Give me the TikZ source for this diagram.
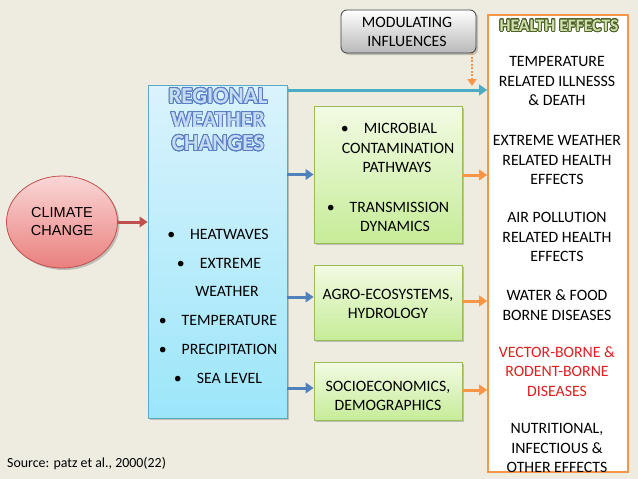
\documentclass[tikz,border=0pt]{standalone}
\usepackage{fontspec}
\setmainfont{Carlito}
\newfontfamily\arialfont{Liberation Sans}
\usepackage{contour}
\contournumber{32}
\usetikzlibrary{arrows.meta,shadows,shapes.geometric}
\definecolor{bgc}{HTML}{EEECE1}
\definecolor{redarr}{HTML}{C0504D}
\definecolor{bluearr}{HTML}{4F81BD}
\definecolor{tealarr}{HTML}{4BACC6}
\definecolor{orangearr}{HTML}{F79646}
\definecolor{cyantop}{HTML}{DAF3FC}
\definecolor{cyanbot}{HTML}{9CE6FA}
\definecolor{cyanedge}{HTML}{5AA9C9}
\definecolor{greentop}{HTML}{F2FBE3}
\definecolor{greenbot}{HTML}{C6EC98}
\definecolor{greenedge}{HTML}{9BBB59}
\definecolor{pinktop}{HTML}{FAD6D6}
\definecolor{pinkbot}{HTML}{E9807E}
\definecolor{pinkedge}{HTML}{C0504D}
\definecolor{regfill}{HTML}{C5DCF4}
\definecolor{regline}{HTML}{5B7FC7}
\definecolor{hefill}{HTML}{CFDFAE}
\definecolor{heline}{HTML}{4F6228}
\definecolor{vecred}{HTML}{E0201E}
\begin{document}
\begin{tikzpicture}[x=1pt,y=-1pt,
  shad/.style={drop shadow={shadow xshift=2pt,shadow yshift=-2pt,opacity=0.35,fill=black!60}},
  arr/.style={line width=3pt,-{Triangle[length=8pt,width=10.5pt]}},
  cyanbox/.style={shad,draw=cyanedge,line width=0.8pt,top color=cyantop,bottom color=cyanbot,inner sep=0pt},
  greenbox/.style={shad,draw=greenedge,line width=0.8pt,top color=greentop,bottom color=greenbot,inner sep=0pt},
  txt/.style={font=\fontsize{15.8}{19}\selectfont,inner sep=0pt,align=center,text=black},
  htxt/.style={font=\fontsize{15.8}{19.5}\selectfont,inner sep=0pt,align=center,text=black}]
\fill[bgc] (0,0) rectangle (638,479);
\useasboundingbox (0,0) rectangle (638,479);
% boxes
\node[ellipse,shad,draw=pinkedge,line width=0.8pt,top color=pinktop,bottom color=pinkbot,
  minimum width=111pt,minimum height=92pt,inner sep=0pt] (cc) at (62,222) {};
\node[font=\arialfont\fontsize{14.5}{18}\selectfont,align=center,inner sep=0pt] (cct) at (62,222) {CLIMATE\\CHANGE};
\node[cyanbox,minimum width=139pt,minimum height=333pt] (reg) at (217.5,251.5) {};
\node[greenbox,minimum width=148pt,minimum height=137pt] (g1) at (388,174.5) {};
\node[greenbox,minimum width=148pt,minimum height=75pt] (g2) at (388,302.5) {};
\node[greenbox,minimum width=148pt,minimum height=58pt] (g3) at (388,391) {};
\node[shad,draw=black!75,line width=0.8pt,rounded corners=6pt,top color=white,bottom color=black!28,
  minimum width=135pt,minimum height=43pt,inner sep=0pt] (mod) at (408.5,31.5) {};
\node[draw=orangearr,line width=1.6pt,fill=white,minimum width=140pt,minimum height=457pt,inner sep=0pt] (he) at (558,243.5) {};
% titles
\contourlength{0.8pt}
\node[font=\bfseries\fontsize{23}{23.5}\selectfont,inner sep=0pt,align=center] (regt) at (218,120)
  {\contour{regline}{\textcolor{regfill}{REGIONAL}}\\\contour{regline}{\textcolor{regfill}{WEATHER}}\\\contour{regline}{\textcolor{regfill}{CHANGES}}};
\node[font=\bfseries\fontsize{17.5}{20}\selectfont,inner sep=0pt] (het) at (559,26)
  {\contour{heline}{\textcolor{hefill}{HEALTH EFFECTS}}};
\node[txt] (modt) at (407,32) {MODULATING\\INFLUENCES};
% regional bullets
\node[txt] (r1) at (218,234) {•\hspace{0.95em}HEATWAVES};
\node[txt] (r2) at (219,263) {•\hspace{0.95em}EXTREME};
\node[txt] (r3) at (227,291) {WEATHER};
\node[txt] (r4) at (218,320) {•\hspace{0.95em}TEMPERATURE};
\node[txt] (r5) at (218,349) {•\hspace{0.95em}PRECIPITATION};
\node[txt] (r6) at (218,378) {•\hspace{0.95em}SEA LEVEL};
% green texts
\node[txt] (m1) at (389,128) {•\hspace{0.95em}MICROBIAL};
\node[txt] (m2) at (398,148) {CONTAMINATION};
\node[txt] (m3) at (397,167) {PATHWAYS};
\node[txt] (m4) at (388,207) {•\hspace{0.95em}TRANSMISSION};
\node[txt] (m5) at (395,226) {DYNAMICS};
\node[txt] (a1) at (388,304) {AGRO-ECOSYSTEMS,\\HYDROLOGY};
\node[txt] (s1) at (388,396) {SOCIOECONOMICS,\\DEMOGRAPHICS};
% health texts
\node[htxt] (h1) at (557,81) {TEMPERATURE\\RELATED ILLNESSS\\\& DEATH};
\node[htxt] (h2) at (557,160) {EXTREME WEATHER\\RELATED HEALTH\\EFFECTS};
\node[htxt] (h3) at (557,237) {AIR POLLUTION\\RELATED HEALTH\\EFFECTS};
\node[htxt] (h4) at (557,305) {WATER \& FOOD\\BORNE DISEASES};
\node[htxt,text=vecred] (h5) at (557,371.5) {VECTOR-BORNE \&\\RODENT-BORNE\\DISEASES};
\node[htxt] (h6) at (557,448) {NUTRITIONAL,\\INFECTIOUS \&\\OTHER EFFECTS};
\node[font=\fontsize{13.9}{16}\selectfont,anchor=west,inner sep=0pt,text=black] (src) at (7,464) {Source: patz et al., 2000(22)};
% arrows
\draw[arr,redarr] (cc.east) -- (reg.west |- cc.east);
\draw[arr,bluearr] (reg.east |- g1.west) -- (g1.west);
\draw[arr,bluearr] (reg.east |- 0,297) -- (g2.west |- 0,297);
\draw[arr,bluearr] (reg.east |- 0,388) -- (g3.west |- 0,388);
\draw[arr,orangearr] (g1.east |- 0,175) -- (he.west |- 0,175);
\draw[arr,orangearr] (g2.east |- 0,301) -- (he.west |- 0,301);
\draw[arr,orangearr] (g3.east |- 0,390) -- (he.west |- 0,390);
\draw[arr,tealarr] (reg.east |- 0,90) -- (he.west |- 0,90);
\coordinate (modx) at (472,53);
\draw[line width=2.6pt,orangearr,dash pattern=on 2pt off 1.5pt,-{Triangle[length=7pt,width=9pt]}] (modx) -- (472,86);
\end{tikzpicture}
\end{document}
